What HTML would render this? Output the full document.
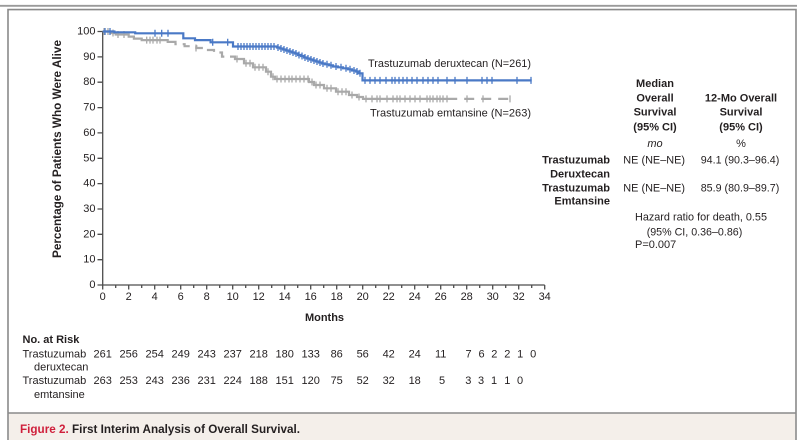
<!DOCTYPE html>
<html><head><meta charset="utf-8">
<style>
html,body{margin:0;padding:0;background:#fff;}
svg{display:block;}
text{font-family:"Liberation Sans",Arial,sans-serif;fill:#231f20;}
.b{font-weight:bold;}
</style></head>
<body>
<svg width="804" height="440" viewBox="0 0 804 440" xmlns="http://www.w3.org/2000/svg">
<!-- frame -->
<rect x="0" y="0" width="804" height="440" fill="#fff"/>
<line x1="0" y1="5.8" x2="797" y2="5.8" stroke="#9a9a9a" stroke-width="1.8"/>
<rect x="8.75" y="413.5" width="786.5" height="27" fill="#f4efea"/>
<path d="M8 440V9.6H796V440" fill="none" stroke="#8a8a8a" stroke-width="1.6"/>
<line x1="8" y1="413" x2="796" y2="413" stroke="#8a8a8a" stroke-width="1.6"/>

<!-- axes -->
<g stroke="#4d4d4d" stroke-width="1.3" fill="none">
<path d="M102.7 31.5V285H544.7"/>
<path d="M97.5 31.5H102.7M97.5 56.9H102.7M97.5 82.2H102.7M97.5 107.6H102.7M97.5 132.9H102.7M97.5 158.3H102.7M97.5 183.6H102.7M97.5 209H102.7M97.5 234.3H102.7M97.5 259.7H102.7M97.5 285H102.7"/>
<path d="M102.7 285v4.5M115.7 285v3M128.7 285v4.5M141.7 285v3M154.7 285v4.5M167.7 285v3M180.7 285v4.5M193.7 285v3M206.7 285v4.5M219.7 285v3M232.7 285v4.5M245.7 285v3M258.7 285v4.5M271.7 285v3M284.7 285v4.5M297.7 285v3M310.7 285v4.5M323.7 285v3M336.7 285v4.5M349.7 285v3M362.7 285v4.5M375.7 285v3M388.7 285v4.5M401.7 285v3M414.7 285v4.5M427.7 285v3M440.7 285v4.5M453.7 285v3M466.7 285v4.5M479.7 285v3M492.7 285v4.5M505.7 285v3M518.7 285v4.5M531.7 285v3M544.7 285v4.5"/>
</g>

<!-- y tick labels -->
<g font-size="11" text-anchor="end" dominant-baseline="central">
<text x="95.5" y="31.5">100</text>
<text x="95.5" y="56.9">90</text>
<text x="95.5" y="82.2">80</text>
<text x="95.5" y="107.6">70</text>
<text x="95.5" y="132.9">60</text>
<text x="95.5" y="158.3">50</text>
<text x="95.5" y="183.6">40</text>
<text x="95.5" y="209">30</text>
<text x="95.5" y="234.3">20</text>
<text x="95.5" y="259.7">10</text>
<text x="95.5" y="285">0</text>
</g>
<!-- x tick labels -->
<g font-size="11" text-anchor="middle" dominant-baseline="central">
<text x="102.7" y="297">0</text>
<text x="128.7" y="297">2</text>
<text x="154.7" y="297">4</text>
<text x="180.7" y="297">6</text>
<text x="206.7" y="297">8</text>
<text x="232.7" y="297">10</text>
<text x="258.7" y="297">12</text>
<text x="284.7" y="297">14</text>
<text x="310.7" y="297">16</text>
<text x="336.7" y="297">18</text>
<text x="362.7" y="297">20</text>
<text x="388.7" y="297">22</text>
<text x="414.7" y="297">24</text>
<text x="440.7" y="297">26</text>
<text x="466.7" y="297">28</text>
<text x="492.7" y="297">30</text>
<text x="518.7" y="297">32</text>
<text x="544.7" y="297">34</text>
</g>
<text class="b" x="324.5" y="318" font-size="11" text-anchor="middle" dominant-baseline="central">Months</text>
<text class="b" font-size="11.5" text-anchor="middle" transform="translate(61,149) rotate(-90)" textLength="218" lengthAdjust="spacingAndGlyphs">Percentage of Patients Who Were Alive</text>

<!-- gray curve (T-DM1) -->
<g fill="none" stroke="#a9a9a9" stroke-width="2.2">
<path d="M102.7 31.5H110.5V33H115.7V34.5H128.7V36.6H133.9V38.6H141.7V40.1H167.7V41.9H170"/>
<path stroke-dasharray="9 6" d="M170 41.9H175.5V44.2H184.6V46.2H196.3V48H206.7V50H214V52.5H222V56.6H230"/>
<path d="M230 56.6H235V59H244V63.3H253V67.3H266V71.7H271V76.7H275V79H309V82H314V85H324V88.3H336V91.7H349V95H357V97H363V98.9H447.2"/>
<path stroke-dasharray="10 7" d="M447.2 98.9H513.5"/>
</g>
<path fill="none" stroke="#a9a9a9" stroke-width="1.3" d="M104 28v7M108 28v7M113 29.5v7M118 31v7M124 31v7M146.7 36.6v7M150 36.6v7M153 36.6v7M157 36.6v7M160 36.6v7M196 44.5v7M237 55.5v7M246 59.8v7M250 59.8v7M255 63.8v7M259 63.8v7M263 63.8v7M268 68.2v7M273 73.2v7M277 75.5v7M281 75.5v7M285 75.5v7M289 75.5v7M292 75.5v7M296 75.5v7M300 75.5v7M304 75.5v7M308 75.5v7M312 78.5v7M316 81.5v7M320 81.5v7M327 84.8v7M331 84.8v7M338 88.2v7M342 88.2v7M346 88.2v7M352 91.5v7M359 93.5v7M366 95.4v7M372 95.4v7M377 95.4v7M380 95.4v7M387 95.4v7M393 95.4v7M397 95.4v7M400 95.4v7M405 95.4v7M410 95.4v7M415 95.4v7M420 95.4v7M427 95.4v7M430 95.4v7M433 95.4v7M437 95.4v7M440 95.4v7M443 95.4v7M447 95.4v7M467 95.4v7M483 95.4v7M510 95.4v7"/>

<!-- blue curve (T-DXd) -->
<path fill="none" stroke="#4a79c6" stroke-width="2.2" d="M102.7 31.5H114.4V32.3H135.2V33.3H183.3V38.3H195V40.1H210.6V42.3H233V46.5H277V47.5H280V48.5H283V49.5H286V50.5H289V51.5H292V52.5H295V53.5H298V55H301V56H304V57.5H307V58.5H310V59.5H313V60.5H316V61.5H319V62.5H322V63.5H325V64.3H329V65.3H333V66.5H338V67.3H343V68.3H348V69.3H352V70.5H356V71.5H358.5V73.3H362.5V80.4H531.7"/>
<path fill="none" stroke="#4a79c6" stroke-width="1.3" d="M105 28v7M110 28v7M155 29.8v7M161.7 29.8v7M168 29.8v7M212.7 38.8v7M227.7 38.8v7M238 43v7M241 43v7M244 43v7M247 43v7M250 43v7M253 43v7M256 43v7M259 43v7M262 43v7M265 43v7M268 43v7M271 43v7M274 43v7M278 44v7M281 45v7M284 46v7M287 47v7M290 48v7M293 49v7M296 50v7M299 51.5v7M302 52.5v7M305 54v7M308 55v7M311 56v7M314 57v7M317 58v7M320 59v7M323 60v7M327 60.8v7M331 61.8v7M336 63v7M341 63.8v7M346 64.8v7M350 65.8v7M354 67v7M357 68v7M360 69.8v7M365 76.9v7M370 76.9v7M375 76.9v7M380 76.9v7M386 76.9v7M392 76.9v7M395 76.9v7M399 76.9v7M403 76.9v7M407 76.9v7M412 76.9v7M417 76.9v7M423 76.9v7M428 76.9v7M433 76.9v7M438 76.9v7M447 76.9v7M455 76.9v7M467 76.9v7M482 76.9v7M487 76.9v7M492 76.9v7M517 76.9v7M531 76.9v7"/>

<!-- curve labels -->
<g font-size="11" dominant-baseline="central">
<text x="368" y="64" textLength="163" lengthAdjust="spacingAndGlyphs">Trastuzumab deruxtecan (N=261)</text>
<text x="370" y="113.3" textLength="161" lengthAdjust="spacingAndGlyphs">Trastuzumab emtansine (N=263)</text>
</g>

<!-- right table -->
<g font-size="11" dominant-baseline="central">
<g class="b" text-anchor="middle">
<text class="b" x="655" y="84">Median</text>
<text class="b" x="655" y="98.3">Overall</text>
<text class="b" x="655" y="112.7">Survival</text>
<text class="b" x="655" y="127.3">(95% CI)</text>
<text class="b" x="741" y="98.3">12-Mo Overall</text>
<text class="b" x="741" y="112.7">Survival</text>
<text class="b" x="741" y="127.3">(95% CI)</text>
</g>
<text x="655" y="144" text-anchor="middle" font-style="italic">mo</text>
<text x="741" y="144" text-anchor="middle">%</text>
<g text-anchor="end">
<text class="b" x="610" y="160.7">Trastuzumab</text>
<text class="b" x="610" y="174.3">Deruxtecan</text>
<text class="b" x="610" y="188.3">Trastuzumab</text>
<text class="b" x="610" y="201.7">Emtansine</text>
</g>
<text x="623.3" y="160.7" textLength="61.7" lengthAdjust="spacingAndGlyphs">NE (NE–NE)</text>
<text x="623.3" y="188.3" textLength="61.7" lengthAdjust="spacingAndGlyphs">NE (NE–NE)</text>
<text x="700.7" y="160.7" textLength="78.6" lengthAdjust="spacingAndGlyphs">94.1 (90.3–96.4)</text>
<text x="700.7" y="188.3" textLength="78.6" lengthAdjust="spacingAndGlyphs">85.9 (80.9–89.7)</text>
<text x="635" y="217.7" textLength="132" lengthAdjust="spacingAndGlyphs">Hazard ratio for death, 0.55</text>
<text x="646.7" y="232.7" textLength="95.6" lengthAdjust="spacingAndGlyphs">(95% CI, 0.36–0.86)</text>
<text x="635" y="245">P=0.007</text>
</g>

<!-- risk table -->
<g font-size="11" dominant-baseline="central">
<text class="b" x="22.5" y="340">No. at Risk</text>
<text x="22.5" y="354.3">Trastuzumab</text>
<text x="34" y="367.7">deruxtecan</text>
<text x="22.5" y="381">Trastuzumab</text>
<text x="34" y="395">emtansine</text>
<g text-anchor="middle">
<text x="102.7" y="354.3">261</text>
<text x="128.7" y="354.3">256</text>
<text x="154.7" y="354.3">254</text>
<text x="180.7" y="354.3">249</text>
<text x="206.7" y="354.3">243</text>
<text x="232.7" y="354.3">237</text>
<text x="258.7" y="354.3">218</text>
<text x="284.7" y="354.3">180</text>
<text x="310.7" y="354.3">133</text>
<text x="336.7" y="354.3">86</text>
<text x="362.7" y="354.3">56</text>
<text x="388.7" y="354.3">42</text>
<text x="414.7" y="354.3">24</text>
<text x="440.7" y="354.3">11</text>
<text x="468.5" y="354.3">7</text>
<text x="481.5" y="354.3">6</text>
<text x="494.3" y="354.3">2</text>
<text x="507.3" y="354.3">2</text>
<text x="520.2" y="354.3">1</text>
<text x="533.2" y="354.3">0</text>

<text x="102.7" y="381">263</text>
<text x="128.7" y="381">253</text>
<text x="154.7" y="381">243</text>
<text x="180.7" y="381">236</text>
<text x="206.7" y="381">231</text>
<text x="232.7" y="381">224</text>
<text x="258.7" y="381">188</text>
<text x="284.7" y="381">151</text>
<text x="310.7" y="381">120</text>
<text x="336.7" y="381">75</text>
<text x="362.7" y="381">52</text>
<text x="388.7" y="381">32</text>
<text x="414.7" y="381">18</text>
<text x="442" y="381">5</text>
<text x="468.3" y="381">3</text>
<text x="481" y="381">3</text>
<text x="494" y="381">1</text>
<text x="507.3" y="381">1</text>
<text x="520" y="381">0</text>
</g>
</g>

<!-- caption -->
<text x="20" y="429" font-size="12" class="b" dominant-baseline="central" textLength="280" lengthAdjust="spacingAndGlyphs"><tspan fill="#cf1f3b" style="fill:#cf1f3b">Figure 2.</tspan> First Interim Analysis of Overall Survival.</text>
</svg>
</body></html>
